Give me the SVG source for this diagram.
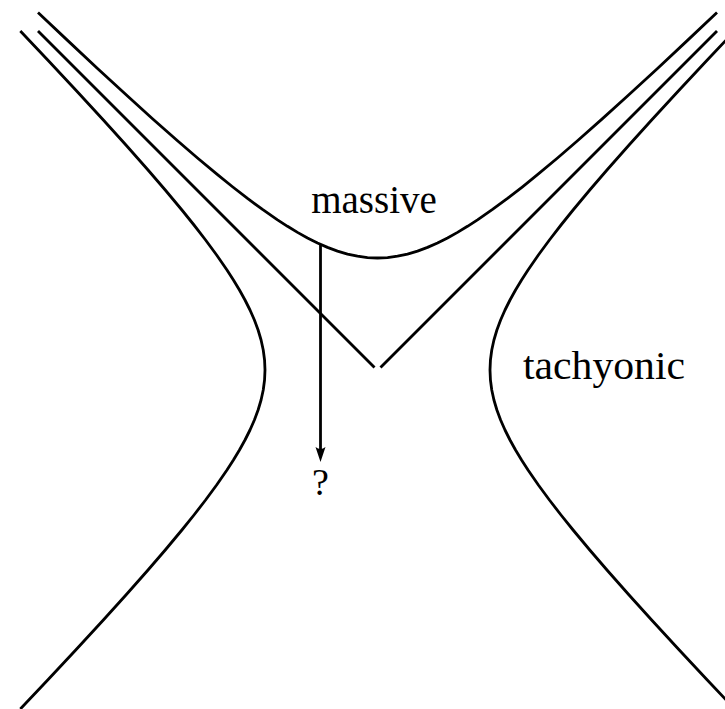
<svg xmlns="http://www.w3.org/2000/svg" width="725" height="709" viewBox="0 0 725 709">
  <style>
    .curve { fill: none; stroke: #000; stroke-width: 2.8; stroke-linejoin: round; stroke-linecap: butt; }
    .label { font-family: "Liberation Serif", "DejaVu Serif", serif; fill: #000; }
  </style>
  <defs>
    <marker id="arrowhead" markerWidth="16" markerHeight="12" refX="5" refY="6" orient="auto" markerUnits="userSpaceOnUse">
      <path d="M15,6 L0,1 Q4,6 0,11 Z" fill="#000"/>
    </marker>
  </defs>
  <rect width="725" height="709" fill="#fff"/>

  <g id="massive-hyperbola">
    <polyline class="curve" points="38,12.5 67.5,40.39 97.5,68.43 127.5,96.06 152.5,118.67 177.5,140.78 197.5,158 217.5,174.69 232.5,186.78 247.5,198.41 262.5,209.47 277.5,219.85 287.5,226.32 297.5,232.36 307.5,237.92 317.5,242.94 327.5,247.35 337.5,251.07 347.5,254.05 357.5,256.23 367.5,257.55 377.5,258 387.5,257.55 397.5,256.23 407.5,254.05 417.5,251.07 427.5,247.35 437.5,242.94 447.5,237.92 457.5,232.36 467.5,226.32 477.5,219.85 492.5,209.47 507.5,198.41 522.5,186.78 537.5,174.69 557.5,158 577.5,140.78 602.5,118.67 627.5,96.06 657.5,68.43 687.5,40.39 717,12.5"/>
  </g>

  <g id="light-cone">
    <line class="curve" x1="38" y1="31" x2="374.5" y2="367.5"/>
    <line class="curve" x1="380.5" y1="367.5" x2="717" y2="31"/>
  </g>

  <g id="tachyonic-left">
    <polyline class="curve" points="20.32,31 47.72,60 75.74,90 103.35,120 125.94,145 148.03,170 165.24,190 181.91,210 193.98,225 205.58,240 216.62,255 226.98,270 233.43,280 239.46,290 245,300 250,310 254.39,320 258.1,330 261.07,340 263.24,350 264.56,360 265,370 264.56,380 263.24,390 261.07,400 258.1,410 254.39,420 250,430 245,440 239.46,450 233.43,460 226.98,470 216.62,485 205.58,500 193.98,515 181.91,530 165.24,550 148.03,570 125.94,595 103.35,620 75.74,650 47.72,680 20.32,709"/>
  </g>

  <g id="tachyonic-right">
    <polyline class="curve" points="734.68,31 707.28,60 679.26,90 651.65,120 629.06,145 606.97,170 589.76,190 573.09,210 561.02,225 549.42,240 538.38,255 528.02,270 521.57,280 515.54,290 510,300 505,310 500.61,320 496.9,330 493.93,340 491.76,350 490.44,360 490,370 490.44,380 491.76,390 493.93,400 496.9,410 500.61,420 505,430 510,440 515.54,450 521.57,460 528.02,470 538.38,485 549.42,500 561.02,515 573.09,530 589.76,550 606.97,570 629.06,595 651.65,620 679.26,650 707.28,680 734.68,709"/>
  </g>

  <g id="label-massive">
    <text class="label" x="374" y="213" font-size="39" text-anchor="middle">massive</text>
  </g>

  <g id="label-tachyonic">
    <text class="label" x="523" y="379" font-size="40" textLength="162" lengthAdjust="spacingAndGlyphs">tachyonic</text>
  </g>

  <g id="label-question">
    <text class="label" x="320.5" y="495" font-size="38" text-anchor="middle">?</text>
  </g>

  <g id="connectors">
    <line class="curve" x1="320.5" y1="244.5" x2="320.5" y2="452" marker-end="url(#arrowhead)"/>
  </g>
</svg>
